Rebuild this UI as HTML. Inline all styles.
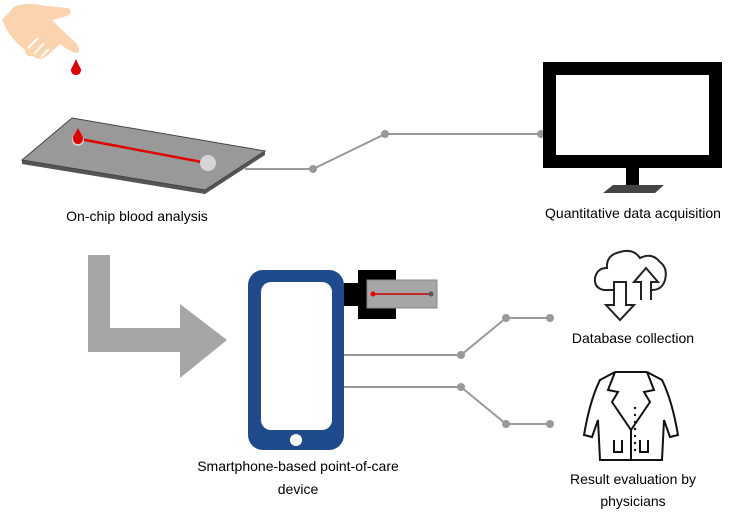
<!DOCTYPE html>
<html><head><meta charset="utf-8"><style>
body{margin:0;background:#fff}
svg text{font-family:"Liberation Sans",sans-serif;font-size:14px;fill:#000}
</style></head><body>
<svg width="734" height="510" viewBox="0 0 734 510" xmlns="http://www.w3.org/2000/svg">
<!-- hand -->
<path d="M2,20 L15,6 Q30,2 45,6 L68,8 Q74,12 67,16 L52,20 Q64,32 75,42 Q82,50 77,53 Q70,52 60,44 Q52,52 44,58 Q36,60 33,56 Q26,58 25,50 Q15,42 8,32 Z" fill="#fbd3ae"/>
<path d="M28,48 L38,38 M34,54 L44,43 M41,57 L49,49" stroke="#fff" stroke-width="2" fill="none"/>
<path d="M76,59 Q73,66 71,69 Q71,75 76,75 Q81,75 81,69 Q79,66 76,59Z" fill="#e00000"/>
<!-- slide -->
<polygon points="22,160 205,190 205,194 22,164" fill="#555"/>
<polygon points="205,190 265,151 265,155 205,194" fill="#555"/>
<polygon points="72,118 265,151 205,190 22,160" fill="#999" stroke="#444" stroke-width="1"/>
<line x1="80" y1="139" x2="207" y2="163" stroke="#e00000" stroke-width="2.5"/>
<circle cx="78" cy="140" r="6" fill="#ccc"/>
<path d="M78,128 Q75,134 73,137 Q73,144 78,144 Q83,144 83,137 Q81,134 78,128Z" fill="#e00000"/>
<circle cx="208" cy="163" r="8" fill="#d6d6d6"/>
<text x="137" y="221" text-anchor="middle">On-chip blood analysis</text>
<!-- connector top -->
<polyline points="245,169 313,169 385,134 540,134" fill="none" stroke="#999" stroke-width="2"/>
<circle cx="313" cy="169" r="4" fill="#999"/><circle cx="385" cy="134" r="4" fill="#999"/><circle cx="541" cy="134" r="4" fill="#999"/>
<!-- monitor -->
<rect x="549.5" y="68.5" width="166" height="93" fill="#fff" stroke="#000" stroke-width="13"/>
<rect x="626" y="168" width="13" height="18" fill="#000"/>
<polygon points="603,193 613,185 664,185 655,193" fill="#444"/>
<text x="633" y="218" text-anchor="middle">Quantitative data acquisition</text>
<!-- gray L arrow -->
<path d="M88,255 L110,255 L110,328 L180,328 L180,304 L227,340 L180,378 L180,352 L88,352 Z" fill="#a6a6a6"/>
<!-- phone -->
<rect x="248" y="270" width="96" height="180" rx="15" fill="#1f4a8c"/>
<rect x="261" y="282" width="71" height="148" rx="10" fill="#fff"/>
<circle cx="296" cy="440" r="6" fill="#fff"/>
<rect x="344" y="283" width="16" height="23" fill="#000"/>
<rect x="358" y="270" width="38" height="49" fill="#000"/>
<rect x="367" y="280" width="70" height="28" fill="#a6a6a6" stroke="#888" stroke-width="1"/>
<line x1="373" y1="294" x2="431" y2="294" stroke="#c00" stroke-width="1.5"/>
<circle cx="373" cy="294" r="2.5" fill="#e00"/><circle cx="431" cy="294" r="2.5" fill="#555"/>
<text x="298" y="471" text-anchor="middle">Smartphone-based point-of-care</text>
<text x="298" y="494" text-anchor="middle">device</text>
<!-- connectors -->
<polyline points="344,355 461,355 506,318 550,318" fill="none" stroke="#999" stroke-width="2"/>
<polyline points="344,387 461,387 506,424 550,424" fill="none" stroke="#999" stroke-width="2"/>
<circle cx="461" cy="355" r="4" fill="#999"/><circle cx="506" cy="318" r="4" fill="#999"/><circle cx="550" cy="318" r="4" fill="#999"/>
<circle cx="461" cy="387" r="4" fill="#999"/><circle cx="506" cy="424" r="4" fill="#999"/><circle cx="550" cy="424" r="4" fill="#999"/>
<!-- cloud -->
<path d="M614,290 L604,290 Q594,288 595,278 Q597,268 607,268 Q606,255 620,252 Q633,248 640,258 Q652,252 660,262 Q668,268 665,280 Q662,290 652,290 L645,290" fill="none" stroke="#222" stroke-width="2"/>
<path d="M614,282 L614,305 L606,305 L620,320 L634,305 L626,305 L626,282 Z" fill="#fff" stroke="#222" stroke-width="2"/>
<path d="M641,300 L641,282 L634,282 L646,268 L658,282 L651,282 L651,300" fill="#fff" stroke="#222" stroke-width="2"/>
<text x="633" y="343" text-anchor="middle">Database collection</text>
<!-- coat -->
<g fill="none" stroke="#111" stroke-width="2">
<path d="M615,372 L600,380 Q590,400 584,435 L592,437 L598,420 L600,460 L662,460 L664,420 L670,437 L678,435 Q672,400 662,380 L647,372"/>
<path d="M615,372 L647,372 M615,372 L608,390 L618,392 L612,402 L631,430 L650,402 L644,392 L654,390 L647,372"/>
<line x1="631" y1="430" x2="631" y2="460"/>
<path d="M614,440 L614,452 L622,452 L622,440 M640,440 L640,452 L648,452 L648,440"/>
</g>
<g fill="#111"><circle cx="635" cy="408" r="1.2"/><circle cx="635" cy="415" r="1.2"/><circle cx="635" cy="422" r="1.2"/><circle cx="635" cy="429" r="1.2"/><circle cx="635" cy="436" r="1.2"/><circle cx="635" cy="443" r="1.2"/><circle cx="635" cy="450" r="1.2"/></g>
<text x="633" y="484" text-anchor="middle">Result evaluation by</text>
<text x="633" y="506" text-anchor="middle">physicians</text>
</svg>
</body></html>
